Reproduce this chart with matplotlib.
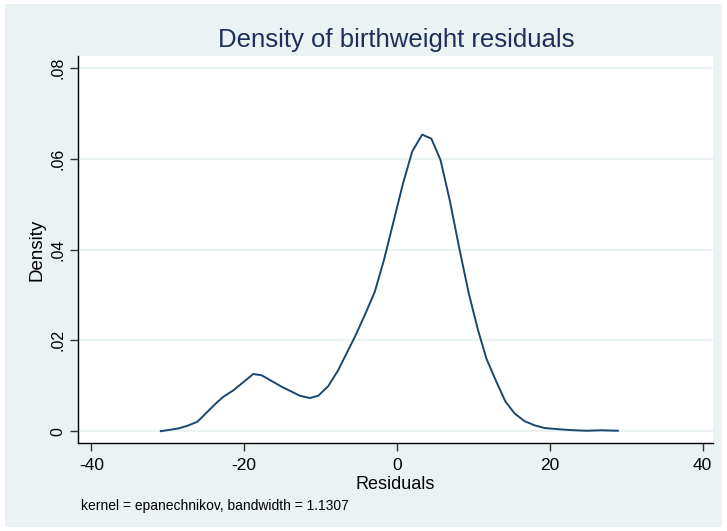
import matplotlib
matplotlib.use("Agg")
import matplotlib.pyplot as plt
from matplotlib.patches import Rectangle

plt.rcParams['font.family'] = ['Liberation Sans', 'DejaVu Sans']
plt.rcParams['axes.unicode_minus'] = False

resid = [-30.9, -28.6, -27.4, -26.1, -23.7, -22.7, -21.4, -18.8, -17.7, -15.1,
         -12.7, -11.4, -10.3, -9.0, -7.7, -5.5, -4.2, -2.9, -1.7, -0.5,
         0.8, 2.0, 3.3, 4.5, 5.7, 6.9, 8.2, 9.4, 10.6, 11.7,
         13.0, 14.2, 15.4, 16.7, 18.0, 19.3, 21.4, 23.2, 24.9, 26.7, 28.9]
density = [0.0000, 0.0006, 0.0012, 0.0021, 0.0061, 0.0076, 0.0090, 0.0126, 0.0123, 0.0098,
           0.0078, 0.0073, 0.0078, 0.0099, 0.0134, 0.0208, 0.0256, 0.0307, 0.0377, 0.0458,
           0.0546, 0.0616, 0.0653, 0.0644, 0.0597, 0.0509, 0.0399, 0.0303, 0.0223, 0.0160,
           0.0109, 0.0065, 0.0039, 0.0022, 0.0013, 0.0007, 0.0004, 0.0002, 0.0001, 0.0002, 0.0001]
xticks = [-40, -20, 0, 20, 40]
yticks = [0, 0.02, 0.04, 0.06, 0.08]
ytick_labels = ["0", ".02", ".04", ".06", ".08"]

W, H = 727, 531
fig = plt.figure(figsize=(W / 100, H / 100), dpi=100, facecolor='white')
fig.patches.append(Rectangle((5 / W, 4 / H), (722 - 5) / W, (527 - 4) / H,
                             transform=fig.transFigure, facecolor='#eaf2f3',
                             edgecolor='none', zorder=-10))

left, right, top, bottom = 77.5, 712.6, 56, 443
ax = fig.add_axes([left / W, 1 - bottom / H, (right - left) / W, (bottom - top) / H])
ax.set_facecolor('white')

ax.plot(resid, density, color='#1a476f', lw=1.4, zorder=3)

ax.set_xlim(-41.8, 41.3)
ax.set_ylim(-0.0026, 0.0826)
ax.set_xticks(xticks)
ax.set_yticks(yticks)
ax.set_yticklabels(ytick_labels, rotation=90, va='center')
ax.grid(axis='y', color='#eaf2f3', lw=1.6, zorder=0)
ax.grid(axis='x', visible=False)

for s in ['top', 'right']:
    ax.spines[s].set_visible(False)
for s in ['left', 'bottom']:
    ax.spines[s].set_color('black')
    ax.spines[s].set_linewidth(1.0)

ax.tick_params(axis='both', direction='out', length=5.5, width=1, color='#333333',
               labelcolor='black')
ax.tick_params(axis='x', labelsize=12.5, pad=5)
ax.tick_params(axis='y', labelsize=11.5, pad=3)

ax.set_xlabel('Residuals', fontsize=13, labelpad=2.5)
ax.set_ylabel('Density', fontsize=13.5, labelpad=4)

fig.text(396 / W, 1 - 40 / H, 'Density of birthweight residuals', ha='center', va='center',
         fontsize=18.5, color='#1e2f5c')
fig.text(81 / W, 1 - 506 / H, 'kernel = epanechnikov, bandwidth = 1.1307', ha='left', va='center',
         fontsize=10, color='black')

fig.savefig('out.png', dpi=100, facecolor=fig.get_facecolor())
